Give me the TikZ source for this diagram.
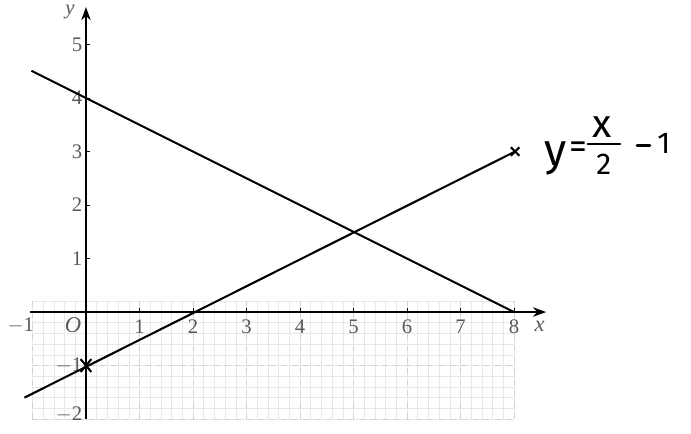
\documentclass[tikz,border=0pt]{standalone}
\usepackage{fontspec}
\setmainfont{Liberation Serif}
\newfontfamily\handfont{Fira Sans}
\usetikzlibrary{arrows.meta,calc}
\begin{document}
\begin{tikzpicture}[x=1cm,y=1cm,
  axis/.style={line width=1pt,-{Stealth[length=7pt,width=5pt]}},
  graphline/.style={line width=1.1pt},
  ticklab/.style={font=\fontsize{11}{12}\selectfont,text=black!65,inner sep=1pt},
  crossmark/.style={line width=1.1pt},
  hand/.style={inner sep=0pt,font=\handfont\fontsize{#1}{#1}\selectfont},
  handstroke/.style={line width=1.5pt,line cap=round}]
\useasboundingbox (-1.607,-2.262) rectangle (11.308,5.832);
% graph paper
\draw[gray!18,line width=0.3pt,step=0.2] (-1,-2) grid (8,0.2);
\draw[gray!35,line width=0.5pt,dashed,step=1] (-1,-2) grid (8,0.2);
% axes
\coordinate (xs) at (-1.05,0);
\coordinate (xe) at (8.6,0);
\coordinate (ys) at (0,-2);
\coordinate (ye) at (0,5.7);
\draw[axis] (xs) -- (xe);
\draw[axis] (ys) -- (ye);
\node[ticklab,font=\itshape\fontsize{12}{12}\selectfont] (xl) at (8.48,-0.27) {x};
\node[ticklab,font=\itshape\fontsize{11}{12}\selectfont] (yl) at (-0.3,5.6) {y};
\node[ticklab,font=\itshape\fontsize{12}{12}\selectfont] (o) at (-0.24,-0.25) {O};
\node[ticklab,anchor=east] (xm1) at (-0.93,-0.25) {$-$1};
\foreach \i in {1,...,8}{
  \draw[line width=0.5pt] (\i,0) -- (\i,0.07);
  \node[ticklab] (x\i) at (\i,-0.27) {\i};
}
\foreach \i in {1,...,5}{
  \draw[line width=0.5pt] (0,\i) -- (0.07,\i);
  \node[ticklab,anchor=east] (y\i) at (-0.03,\i) {\i};
}
\node[ticklab,anchor=east] (ym1) at (-0.03,-1) {$-$1};
\node[ticklab,anchor=east] (ym2) at (-0.03,-1.92) {$-$2};
% lines
\coordinate (a1) at (-1.02,4.51);
\coordinate (a2) at (8,0);
\draw[graphline] (a1) -- (a2);
\coordinate (b1) at (-1.15,-1.6);
\coordinate (b2) at (8.02,3.0);
\draw[graphline] (b1) -- (b2);
% crosses
\coordinate (c1) at (0,-1);
\coordinate (c2) at (8.02,3.0);
\draw[crossmark] ($(c1)+(-0.1,-0.12)$) -- ($(c1)+(0.1,0.12)$) ($(c1)+(-0.1,0.12)$) -- ($(c1)+(0.1,-0.12)$);
\draw[crossmark] ($(c2)+(-0.08,-0.08)$) -- ($(c2)+(0.08,0.08)$) ($(c2)+(-0.08,0.08)$) -- ($(c2)+(0.08,-0.08)$);
% handwritten label  y = x/2 - 1
\node[hand=24] (hy) at (8.77,2.87) {y};
\node[hand=19] (heq) at (9.2,3.03) {=};
\node[hand=21] (hx) at (9.64,3.45) {x};
\coordinate (fb1) at (9.38,3.14);
\coordinate (fb2) at (9.98,3.14);
\draw[handstroke] (fb1) -- (fb2);
\node[hand=16] (h2) at (9.68,2.76) {2};
\coordinate (mn1) at (10.3,3.12);
\coordinate (mn2) at (10.54,3.12);
\draw[handstroke] (mn1) -- (mn2);
\node[hand=16] (h1) at (10.8,3.16) {1};
\end{tikzpicture}
\end{document}
